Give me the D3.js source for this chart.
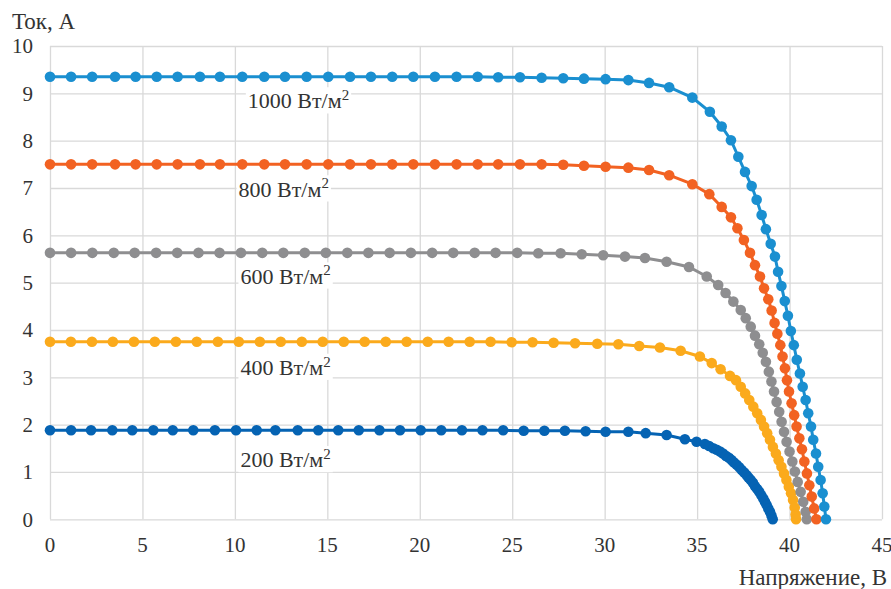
<!DOCTYPE html>
<html>
<head>
<meta charset="utf-8">
<script src="https://cdn.jsdelivr.net/npm/d3@7"></script>
<style>
  body { margin: 0; background: #fff; }
  svg text { font-family: "Liberation Serif", "Times New Roman", serif; fill: #333; }
  .grid line { stroke: #d9d9d9; stroke-width: 1.3; }
  .grid .domain { display: none; }
</style>
</head>
<body>
<div id="vis"></div>
<script>
// I-V curves of a PV module at different irradiance, [voltage V, current A]
var s1000 = [[0,9.35],[1.14,9.35],[2.28,9.35],[3.52,9.35],[4.63,9.35],[5.77,9.35],[6.90,9.35],[8.11,9.35],[9.19,9.35],[10.40,9.35],
  [11.59,9.35],[12.71,9.35],[13.88,9.35],[15.05,9.35],[16.23,9.35],[17.36,9.35],[18.51,9.35],[19.65,9.35],[20.82,9.35],[21.99,9.35],
  [23.13,9.35],[24.24,9.34],[25.42,9.34],[26.59,9.33],[27.76,9.32],[28.88,9.31],[30.05,9.30],[31.28,9.28],[32.40,9.22],[33.49,9.13],
  [34.74,8.91],[35.69,8.61],[36.33,8.30],[36.83,8.01],[37.23,7.66],[37.59,7.34],[37.95,7.04],[38.22,6.75],[38.49,6.43],[38.72,6.13],
  [38.98,5.82],[39.21,5.55],[39.38,5.23],[39.56,4.93],[39.74,4.61],[39.91,4.30],[40.07,3.98],[40.23,3.68],[40.39,3.37],[40.56,3.08],
  [40.71,2.80],[40.87,2.52],[41.01,2.24],[41.16,1.96],[41.28,1.68],[41.43,1.39],[41.55,1.11],[41.68,0.83],[41.79,0.55],[41.88,0.27],[41.97,0]];

var s800 = [[0,7.50],[1.14,7.50],[2.28,7.50],[3.52,7.50],[4.63,7.50],[5.77,7.50],[6.90,7.50],[8.11,7.50],[9.19,7.50],[10.40,7.50],
  [11.59,7.50],[12.71,7.50],[13.88,7.50],[15.05,7.50],[16.23,7.50],[17.36,7.50],[18.51,7.50],[19.65,7.50],[20.82,7.50],[21.99,7.50],
  [23.13,7.50],[24.24,7.50],[25.42,7.50],[26.59,7.50],[27.76,7.49],[28.88,7.47],[30.05,7.45],[31.28,7.43],[32.40,7.38],[33.49,7.27],
  [34.74,7.08],[35.66,6.87],[36.33,6.60],[36.83,6.38],[37.18,6.15],[37.53,5.90],[37.86,5.63],[38.13,5.37],[38.40,5.13],[38.62,4.88],
  [38.85,4.65],[39.03,4.41],[39.19,4.15],[39.34,3.92],[39.50,3.68],[39.62,3.44],[39.75,3.19],[39.86,2.94],[39.97,2.70],[40.11,2.45],
  [40.25,2.20],[40.38,1.96],[40.53,1.71],[40.67,1.48],[40.80,1.22],[40.94,0.97],[41.07,0.72],[41.20,0.48],[41.33,0.23],[41.45,0]];

var s600 = [[0,5.63],[1.14,5.63],[2.29,5.63],[3.45,5.63],[4.58,5.63],[5.74,5.63],[6.88,5.63],[8.03,5.63],[9.17,5.63],[10.33,5.63],
  [11.48,5.63],[12.62,5.63],[13.78,5.63],[14.92,5.63],[16.08,5.63],[17.22,5.63],[18.37,5.63],[19.52,5.63],[20.67,5.63],[21.81,5.63],
  [22.97,5.63],[24.10,5.63],[25.27,5.63],[26.41,5.62],[27.62,5.62],[28.76,5.60],[29.92,5.58],[31.10,5.55],[32.18,5.52],[33.35,5.44],
  [34.56,5.33],[35.52,5.13],[36.14,4.95],[36.54,4.78],[36.96,4.60],[37.36,4.42],[37.63,4.25],[37.90,4.07],[38.13,3.88],[38.36,3.70],
  [38.55,3.52],[38.72,3.33],[38.88,3.12],[39.02,2.91],[39.16,2.70],[39.30,2.48],[39.44,2.27],[39.57,2.06],[39.70,1.85],[39.84,1.64],
  [40.00,1.43],[40.15,1.22],[40.29,1.01],[40.44,0.79],[40.60,0.58],[40.74,0.37],[40.87,0.16],[40.93,0]];

var s400 = [[0,3.75],[1.13,3.75],[2.27,3.75],[3.40,3.75],[4.54,3.75],[5.67,3.75],[6.81,3.75],[7.94,3.75],[9.08,3.75],[10.21,3.75],
  [11.35,3.75],[12.48,3.75],[13.62,3.75],[14.75,3.75],[15.89,3.75],[17.02,3.75],[18.16,3.75],[19.29,3.75],[20.43,3.75],[21.56,3.75],
  [22.70,3.75],[23.83,3.75],[24.97,3.74],[26.10,3.74],[27.24,3.73],[28.40,3.72],[29.60,3.71],[30.74,3.70],[31.87,3.66],[32.99,3.63],
  [34.11,3.56],[35.15,3.44],[35.79,3.30],[36.27,3.17],[36.78,3.03],[37.10,2.94],[37.36,2.80],[37.60,2.66],[37.82,2.52],[38.04,2.38],
  [38.25,2.24],[38.45,2.10],[38.62,1.96],[38.79,1.82],[38.94,1.68],[39.10,1.53],[39.26,1.39],[39.41,1.25],[39.56,1.11],[39.70,0.97],
  [39.83,0.83],[39.96,0.69],[40.08,0.55],[40.19,0.41],[40.28,0.25],[40.33,0.10],[40.35,0]];

var s200 = [[0,1.88],[1.14,1.88],[2.22,1.88],[3.37,1.88],[4.45,1.88],[5.59,1.88],[6.64,1.88],[7.75,1.88],[8.92,1.88],[10.06,1.88],
  [11.18,1.88],[12.19,1.88],[13.40,1.88],[14.51,1.88],[15.59,1.88],[16.70,1.88],[17.82,1.88],[18.93,1.88],[20.05,1.88],[21.16,1.88],
  [22.28,1.88],[23.39,1.88],[24.51,1.88],[25.62,1.87],[26.74,1.87],[27.85,1.87],[28.97,1.86],[30.05,1.85],[31.28,1.85],[32.22,1.82],
  [33.35,1.78],[34.34,1.69],[34.97,1.64],[35.42,1.59],[35.65,1.55],[35.87,1.50],[36.06,1.47],[36.24,1.43],[36.40,1.39],[36.56,1.34],
  [36.72,1.30],[36.87,1.25],[37.00,1.20],[37.14,1.15],[37.28,1.10],[37.41,1.04],[37.55,0.99],[37.68,0.93],[37.79,0.88],[37.90,0.83],
  [38.02,0.77],[38.13,0.70],[38.25,0.64],[38.36,0.58],[38.47,0.51],[38.58,0.44],[38.67,0.37],[38.76,0.30],[38.85,0.23],[38.94,0.16],
  [39.02,0.08],[39.09,0]];

var seriesNames = ["1000", "800", "600", "400", "200"];
var seriesColors = ["#1a8fd0", "#f26222", "#8e8e90", "#fbaa1c", "#0563b3"];
var xTicks = [0, 5, 10, 15, 20, 25, 30, 35, 40, 45];
var yTicks = [0, 1, 2, 3, 4, 5, 6, 7, 8, 9, 10];
// label anchor points (left edge / baseline), in data units
var labelPos = [[10.7, 8.68], [10.2, 6.82], [10.3, 4.98], [10.3, 3.05], [10.3, 1.10]];

var seriesData = [s1000, s800, s600, s400, s200];

var width = 891, height = 589;
var margin = {top: 46, right: 9, bottom: 69.7, left: 50};

var svg = d3.select("#vis")
    .append("svg")
    .attr("width", width)
    .attr("height", height);

var x = d3.scaleLinear()
    .domain([0, 45])
    .range([margin.left, width - margin.right]);

var y = d3.scaleLinear()
    .domain([0, 10])
    .range([height - margin.bottom, margin.top]);

// grid
svg.append("g")
    .attr("class", "grid")
    .attr("transform", "translate(0," + y(0) + ")")
    .call(d3.axisBottom(x).tickValues(xTicks).tickSize(-(y(0) - y(10))).tickFormat(""));

svg.append("g")
    .attr("class", "grid")
    .attr("transform", "translate(" + x(0) + ",0)")
    .call(d3.axisLeft(y).tickValues(yTicks).tickSize(-(x(45) - x(0))).tickFormat(""));

// tick labels
svg.append("g")
  .selectAll("text")
    .data(xTicks)
    .enter()
    .append("text")
    .attr("x", x)
    .attr("y", y(0) + 33)
    .attr("text-anchor", "middle")
    .style("font-size", "21px")
    .text(function(d) { return d; });

svg.append("g")
  .selectAll("text")
    .data(yTicks)
    .enter()
    .append("text")
    .attr("x", x(0) - 17)
    .attr("y", y)
    .attr("dy", "0.35em")
    .attr("text-anchor", "end")
    .style("font-size", "21px")
    .text(function(d) { return d; });

// axis titles
svg.append("text")
    .attr("x", 12)
    .attr("y", 29)
    .style("font-size", "23px")
    .text("Ток, А");

svg.append("text")
    .attr("x", 887)
    .attr("y", 585)
    .attr("text-anchor", "end")
    .style("font-size", "23px")
    .text("Напряжение, В");

// curves
var line = d3.line()
    .x(function(d) { return x(d[0]); })
    .y(function(d) { return y(d[1]); });

var curves = svg.append("g").attr("class", "plot");

seriesData.slice().reverse().forEach(function(data, j) {
  var i = seriesData.length - 1 - j;
  var g = curves.append("g");
  g.append("path")
      .datum(data)
      .attr("fill", "none")
      .attr("stroke", seriesColors[i])
      .attr("stroke-width", 3)
      .attr("d", line);
  g.selectAll("circle")
      .data(data)
      .enter()
      .append("circle")
      .attr("cx", function(d) { return x(d[0]); })
      .attr("cy", function(d) { return y(d[1]); })
      .attr("r", 5.3)
      .attr("fill", seriesColors[i]);
});

// irradiance labels with white boxes
var labels = svg.append("g").attr("class", "labels");
seriesNames.forEach(function(name, i) {
  var lg = labels.append("g");
  var bg = lg.append("rect").attr("fill", "#fff");
  var t = lg.append("text")
      .attr("x", x(labelPos[i][0]))
      .attr("y", y(labelPos[i][1]))
      .style("font-size", "22px");
  t.append("tspan").text(name + " Вт/м");
  t.append("tspan")
      .attr("dy", "-0.55em")
      .style("font-size", "15px")
      .text("2");
  var b = t.node().getBBox();
  bg.attr("x", b.x - 2).attr("y", b.y).attr("width", b.width + 4).attr("height", b.height);
});
</script>
</body>
</html>
